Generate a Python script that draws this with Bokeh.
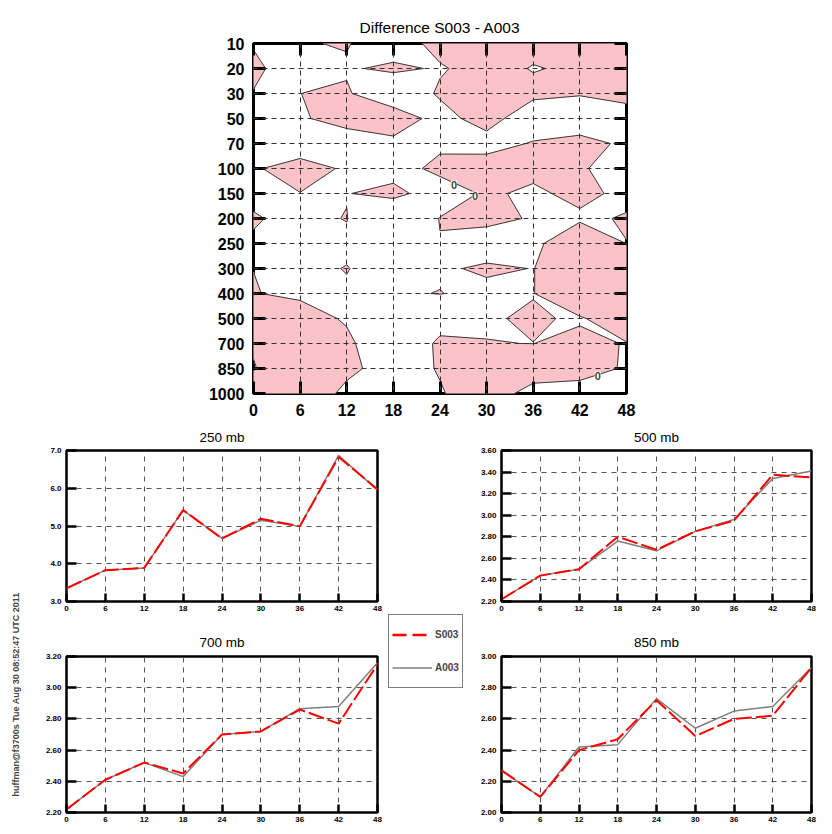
import numpy as np
from bokeh.plotting import figure
from bokeh.models import (Range1d, FixedTicker, LinearAxis, Grid, Label, Legend,
                          LegendItem, PrintfTickFormatter, Title)
from bokeh.layouts import column, row
from bokeh.embed import file_html
from bokeh.resources import INLINE

FONT = "Liberation Sans"
PINK = "#fbc3c8"

# ---------------- data ----------------
hours = [0, 6, 12, 18, 24, 30, 36, 42, 48]
levels = ["10", "20", "30", "50", "70", "100", "150", "200", "250", "300",
          "400", "500", "700", "850", "1000"]

# difference field S003 - A003 (rows: pressure levels, columns: forecast hours)
diff_10 = [-0.35, -0.29, 0.3, -3.0, 1.84, 2.0, 1.84, 2.0, 2.0]
diff_20 = [1.0, -2.85, -0.6, 1.0, -0.55, 2.3, -0.35, 1.0, 1.5]
diff_30 = [-0.2, -0.02, 0.65, -5.0, 0.8, 2.0, 1.7, 0.1, 1.0]
diff_50 = [-2.0, -0.6, 2.0, 4.0, -2.5, 3.0, -5.0, -1.0, -1.5]
diff_70 = [-2.0, -1.5, -3.0, -1.7, -1.1, -3.0, 0.56, 0.5, -0.26]
diff_100 = [-0.25, 1.0, -0.32, -2.45, 1.5, 4.0, 1.5, 1.0, -4.3]
diff_150 = [-0.8, -0.05, -0.2, 1.7, -3.2, 0.8, -1.0, 1.5, -1.4]
diff_200 = [0.3, -1.0, 0.15, -6.8, 0.2, 1.0, -0.32, -1.0, 0.45]
diff_250 = [-0.37, -1.0, -0.9, -2.0, -0.21, -2.0, -1.7, 5.7, -0.08]
diff_300 = [-0.05, -1.0, 0.15, -2.0, -0.52, 0.56, -0.084, 2.7, 2.0]
diff_400 = [0.3, -1.5, -0.5, -0.4, 0.1, -1.0, -0.1, 3.2, 2.0]
diff_500 = [2.0, 3.9, -1.0, -2.0, -3.6, -0.23, 0.3, -0.32, 2.0]
diff_700 = [0.5, 3.0, 2.0, -8.5, 1.62, 0.05, -0.02, 0.75, -0.14]
diff_850 = [-0.3, 4.0, 1.5, -2.9, 0.43, 2.0, 3.3, 2.0, -0.5]
diff_1000 = [3.0, 5.0, -1.6, -2.0, -0.47, 3.4, -2.3, -2.2, -1.0]
diff_rows = [diff_10, diff_20, diff_30, diff_50, diff_70, diff_100, diff_150, diff_200,
             diff_250, diff_300, diff_400, diff_500, diff_700, diff_850, diff_1000]

# contour labels ("0") position: hour, level index
clabel_x = [25.8, 28.5, 44.3]
clabel_y = [5.64, 6.08, 13.29]

s003_250 = [3.35, 3.83, 3.89, 5.42, 4.67, 5.19, 4.99, 6.83, 5.97]
a003_250 = [3.35, 3.83, 3.89, 5.42, 4.67, 5.15, 4.99, 6.87, 5.95]
s003_500 = [2.22, 2.44, 2.50, 2.80, 2.68, 2.85, 2.95, 3.375, 3.35]
a003_500 = [2.22, 2.44, 2.50, 2.76, 2.67, 2.85, 2.96, 3.34, 3.41]
s003_700 = [2.22, 2.41, 2.52, 2.45, 2.70, 2.72, 2.86, 2.77, 3.15]
a003_700 = [2.22, 2.41, 2.52, 2.43, 2.70, 2.72, 2.865, 2.88, 3.16]
s003_850 = [2.27, 2.10, 2.40, 2.47, 2.72, 2.49, 2.60, 2.62, 2.93]
a003_850 = [2.27, 2.10, 2.42, 2.435, 2.73, 2.54, 2.65, 2.68, 2.93]

yticks_250 = [3.0, 4.0, 5.0, 6.0, 7.0]
yticks_500 = [2.2, 2.4, 2.6, 2.8, 3.0, 3.2, 3.4, 3.6]
yticks_700 = [2.2, 2.4, 2.6, 2.8, 3.0, 3.2]
yticks_850 = [2.0, 2.2, 2.4, 2.6, 2.8, 3.0]

main_title = "Difference S003 - A003"
stamp = "huffman@f3700s Tue Aug 30 08:52:47 UTC 2011"


# ---------------- zero contour of the difference field ----------------
def zero_contour(Z, X, Y):
    fx, fy, lx, ly = [], [], [], []
    nr, nc = Z.shape
    for r in range(nr - 1):
        for c in range(nc - 1):
            P = [(X[c], Y[r]), (X[c + 1], Y[r]), (X[c + 1], Y[r + 1]), (X[c], Y[r + 1])]
            v = [Z[r, c], Z[r, c + 1], Z[r + 1, c + 1], Z[r + 1, c]]
            pos = [vi > 0 for vi in v]
            if not any(pos):
                continue

            def cut(i, j):
                t = v[i] / (v[i] - v[j])
                return (P[i][0] + t * (P[j][0] - P[i][0]), P[i][1] + t * (P[j][1] - P[i][1]))

            if pos in ([True, False, True, False], [False, True, False, True]):
                for i in range(4):
                    if pos[i]:
                        a = cut(i, (i - 1) % 4)
                        b = cut(i, (i + 1) % 4)
                        tri = [a, P[i], b]
                        fx.append([q[0] for q in tri])
                        fy.append([q[1] for q in tri])
                        lx.append([a[0], b[0]])
                        ly.append([a[1], b[1]])
            else:
                poly, kind = [], []
                for i in range(4):
                    j = (i + 1) % 4
                    if pos[i]:
                        poly.append(P[i])
                        kind.append(0)
                    if pos[i] != pos[j]:
                        poly.append(cut(i, j))
                        kind.append(1)
                fx.append([q[0] for q in poly])
                fy.append([q[1] for q in poly])
                n = len(poly)
                for k in range(n):
                    k2 = (k + 1) % n
                    if kind[k] and kind[k2]:
                        lx.append([poly[k][0], poly[k2][0]])
                        ly.append([poly[k][1], poly[k2][1]])
    return fx, fy, lx, ly


Z = np.array(diff_rows, dtype=float)
X = np.array(hours, dtype=float)
Y = np.arange(len(levels), dtype=float)
fill_xs, fill_ys, line_xs, line_ys = zero_contour(Z, X, Y)


def base_fig(**kw):
    f = figure(output_backend="svg", toolbar_location=None, title=None, **kw)
    f.background_fill_color = "white"
    f.border_fill_color = "white"
    return f


def style_axis(ax, ticker, tick_in, tick_w, font_size, standoff):
    ax.ticker = ticker
    ax.axis_line_color = None
    ax.major_tick_in = tick_in
    ax.major_tick_out = 0
    ax.major_tick_line_width = tick_w
    ax.major_tick_line_color = "black"
    ax.minor_tick_line_color = None
    ax.major_label_standoff = standoff
    ax.major_label_text_font = FONT
    ax.major_label_text_font_style = "bold"
    ax.major_label_text_color = "black"
    ax.major_label_text_font_size = font_size


def add_title(fig, text, size, standoff):
    fig.add_layout(Title(text=text, align="center", text_font=FONT, text_font_size=size,
                         text_font_style="normal", text_color="black",
                         standoff=standoff), "above")


xt = FixedTicker(ticks=hours)
yt = FixedTicker(ticks=list(range(len(levels))))
lev_over = {i: lab for i, lab in enumerate(levels)}
blank_x = {h: "" for h in hours}
blank_y = {i: "" for i in range(len(levels))}

# ---------------- top: contour plot ----------------
top = base_fig(width=816, height=414, x_range=Range1d(0, 48), y_range=Range1d(14, 0),
               min_border_left=245, min_border_right=198, min_border_top=35,
               min_border_bottom=29, x_axis_location=None, y_axis_location=None)
for g in list(top.grid):
    g.visible = False
top.outline_line_color = "black"
top.outline_line_width = 3

top.patches(fill_xs, fill_ys, fill_color=PINK, line_color=PINK, line_width=0.8)
top.multi_line(line_xs, line_ys, line_color="#3a3a3a", line_width=1)

for loc, dim in (("below", 0), ("above", 0), ("left", 1), ("right", 1)):
    ax = LinearAxis()
    style_axis(ax, xt if dim == 0 else yt, 12, 3, "16px", 9 if loc == "left" else 10)
    if loc == "left":
        ax.major_label_overrides = lev_over
    elif loc == "above":
        ax.major_label_overrides = blank_x
        ax.major_label_standoff = 0
    elif loc == "right":
        ax.major_label_overrides = blank_y
        ax.major_label_standoff = 0
    top.add_layout(ax, loc)
add_title(top, main_title, "15.5px", 16)

for dim, tk in ((0, xt), (1, yt)):
    g = Grid(dimension=dim, ticker=tk, grid_line_color="#333333", grid_line_dash="5 4",
             grid_line_width=1)
    g.level = "overlay"
    top.add_layout(g)

for cx, cy in zip(clabel_x, clabel_y):
    top.add_layout(Label(x=cx, y=cy, text="0", text_font=FONT, text_font_size="11px",
                         text_font_style="bold", text_align="center",
                         text_baseline="middle", background_fill_color="white"))


# ---------------- bottom panels ----------------
def panel(title, yticks, fmt, s, a, width, height, mbl, mbr, mbt, mbb, tstand):
    f = base_fig(width=width, height=height, x_range=Range1d(0, 48),
                 y_range=Range1d(yticks[0], yticks[-1]),
                 min_border_left=mbl, min_border_right=mbr, min_border_top=mbt,
                 min_border_bottom=mbb)
    f.outline_line_color = "black"
    f.outline_line_width = 2.5
    style_axis(f.xaxis[0], FixedTicker(ticks=hours), 8, 2.5, "8px", 4)
    style_axis(f.yaxis[0], FixedTicker(ticks=yticks), 10, 2.5, "8px", 5)
    f.yaxis[0].formatter = PrintfTickFormatter(format=fmt)
    add_title(f, title, "13.5px", tstand)
    for g in (f.xgrid[0], f.ygrid[0]):
        g.grid_line_color = "#555555"
        g.grid_line_dash = "5 5"
        g.grid_line_width = 1
    f.line(hours, a, line_color="#7f7f7f", line_width=1.5)
    f.line(hours, s, line_color="red", line_width=2, line_dash="16 4")
    return f


p250 = panel("250 mb", yticks_250, "%.1f", s003_250, a003_250, 363, 203, 44, 8, 27, 24, 11)
p700 = panel("700 mb", yticks_700, "%.2f", s003_700, a003_700, 363, 201, 44, 8, 31, 14, 13)
p500 = panel("500 mb", yticks_500, "%.2f", s003_500, a003_500, 354, 203, 31, 13, 27, 24, 11)
p850 = panel("850 mb", yticks_850, "%.2f", s003_850, a003_850, 354, 201, 31, 13, 31, 14, 13)

# side stamp
side = base_fig(width=14, height=404, x_range=Range1d(0, 1), y_range=Range1d(0, 1),
                min_border=0, x_axis_location=None, y_axis_location=None)
side.outline_line_color = None
side.grid.visible = False
side.add_layout(Label(x=7, y=132, x_units="screen", y_units="screen", text=stamp,
                      angle=np.pi / 2, text_align="center", text_baseline="middle",
                      text_font=FONT, text_font_size="9px", text_font_style="bold"))

# legend column (legend samples kept outside the visible range)
mid = base_fig(width=85, height=404, x_range=Range1d(0, 1), y_range=Range1d(0, 1),
               min_border=0, x_axis_location=None, y_axis_location=None)
mid.outline_line_color = None
mid.grid.visible = False
r_s = mid.line(x=[-2, -1], y=[-2, -1], line_color="red", line_width=2.5, line_dash="14 6")
r_a = mid.line(x=[-2, -1], y=[-2, -1], line_color="#7f7f7f", line_width=1.5)
leg = Legend(items=[LegendItem(label="S003", renderers=[r_s]),
                    LegendItem(label="A003", renderers=[r_a])],
             location=(3, 138), padding=3, spacing=0, margin=0,
             glyph_width=40, glyph_height=33, label_standoff=3, label_height=20,
             label_text_font=FONT, label_text_font_size="10px",
             label_text_font_style="bold", border_line_color="black",
             border_line_width=1.5, background_fill_color="white",
             background_fill_alpha=1.0)
mid.add_layout(leg)

layout = column(
    top,
    row(side, column(p250, p700, spacing=0), mid, column(p500, p850, spacing=0), spacing=0),
    spacing=0,
    margin=(8, 8, 0, 8),
)

open("out.html", "w").write(file_html(layout, INLINE))
